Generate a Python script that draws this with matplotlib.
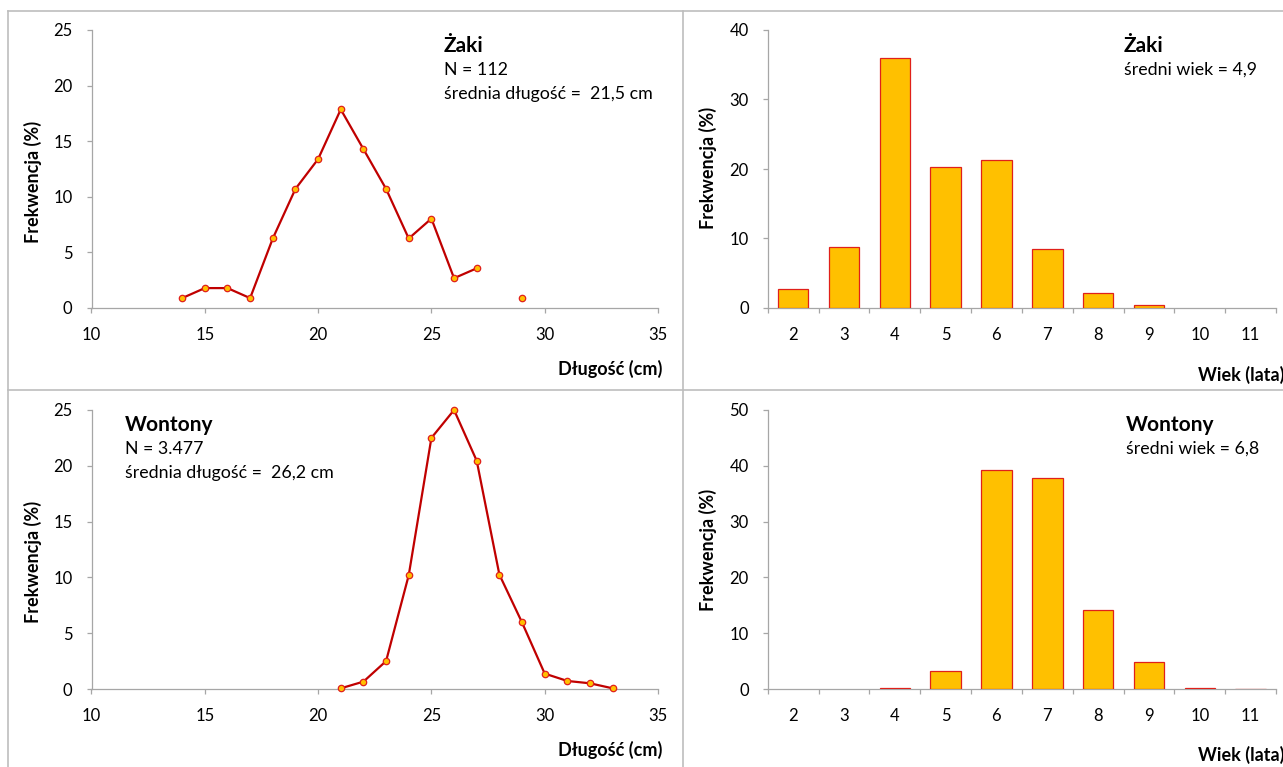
import numpy as np
import matplotlib
matplotlib.use("Agg")
import matplotlib.pyplot as plt
from matplotlib.lines import Line2D

plt.rcParams['font.family'] = ['Lato', 'DejaVu Sans']

# ---------------- data ----------------
zaki_len = [14, 15, 16, 17, 18, 19, 20, 21, 22, 23, 24, 25, 26, 27, 28, 29]
zaki_len_pct = [0.89, 1.79, 1.79, 0.89, 6.25, 10.71, 13.39, 17.86, 14.29, 10.71,
                6.25, 8.04, 2.68, 3.57, np.nan, 0.89]
zaki_age = [2, 3, 4, 5, 6, 7, 8, 9, 10, 11]
zaki_age_pct = [2.7, 8.8, 36.0, 20.3, 21.3, 8.5, 2.2, 0.5, 0.0, 0.0]

wont_len = [21, 22, 23, 24, 25, 26, 27, 28, 29, 30, 31, 32, 33]
wont_len_pct = [0.06, 0.66, 2.5, 10.2, 22.5, 25.0, 20.45, 10.25, 5.96, 1.38, 0.72, 0.51, 0.06]
wont_age = [2, 3, 4, 5, 6, 7, 8, 9, 10, 11]
wont_age_pct = [0.0, 0.0, 0.1, 3.2, 39.3, 37.8, 14.2, 4.85, 0.25, 0.08]

len_ticks = [10, 15, 20, 25, 30, 35]
ylabel = "Frekwencja (%)"
xlabel_len = "Długość (cm)"
xlabel_age = "Wiek (lata)"

W, H = 1283, 767
fig = plt.figure(figsize=(W / 100, H / 100), dpi=100)

def fx(px):
    return px / W

def fy(py):
    return 1 - py / H

def make_ax(l, r, t, b):
    return fig.add_axes([fx(l), fy(b), fx(r) - fx(l), fy(t) - fy(b)])

SPINE = '#a6a6a6'
LINE = '#c00000'
GOLD = '#ffc000'
EDGE = '#e0201a'
TICK_FS = 12
ANN_FS = 12.8
TITLE_FS = 15
LAB_FS = 13

def style(ax):
    for s in ['top', 'right']:
        ax.spines[s].set_visible(False)
    for s in ['left', 'bottom']:
        ax.spines[s].set_color(SPINE)
        ax.spines[s].set_linewidth(0.9)
    ax.tick_params(axis='both', which='both', direction='out', color=SPINE,
                   length=3.6, width=0.9, labelsize=TICK_FS, labelcolor='#000000')
    ax.tick_params(axis='y', pad=10)
    ax.tick_params(axis='x', pad=10)
    ax.set_facecolor('none')

# panel borders
for (x0, y0, x1, y1) in [(7.7, 10.7, W + 5, 10.7), (7.7, 10.7, 7.7, H + 5),
                         (683, 10.7, 683, H + 5), (7.7, 390, W + 5, 390)]:
    fig.add_artist(Line2D([fx(x0), fx(x1)], [fy(y0), fy(y1)], color='#bdbdbd', lw=1.2,
                          transform=fig.transFigure))

def line_panel(l, r, t, b, xs, ys, title, n_txt, mean_txt, tx, ty, ylab_xy, xlab_xy):
    ax = make_ax(l, r, t, b)
    style(ax)
    ax.plot(xs, ys, color=LINE, lw=1.6, marker='o', markersize=4.6,
            markerfacecolor=GOLD, markeredgecolor=EDGE, markeredgewidth=0.9, clip_on=False, zorder=3)
    ax.set_xlim(10, 35)
    ax.set_ylim(0, 25)
    ax.set_xticks(len_ticks)
    ax.set_yticks([0, 5, 10, 15, 20, 25])
    fig.text(fx(tx), fy(ty), title, fontsize=TITLE_FS, fontweight='bold', ha='left', va='center')
    fig.text(fx(tx), fy(ty + 24), n_txt, fontsize=ANN_FS, ha='left', va='center')
    fig.text(fx(tx), fy(ty + 48), mean_txt, fontsize=ANN_FS, ha='left', va='center')
    fig.text(fx(ylab_xy[0]), fy(ylab_xy[1]), ylabel, rotation=90, fontsize=LAB_FS,
             fontweight='bold', ha='center', va='center')
    fig.text(fx(xlab_xy[0]), fy(xlab_xy[1]), xlabel_len, fontsize=LAB_FS,
             fontweight='bold', ha='right', va='center')
    return ax

def bar_panel(l, r, t, b, xs, ys, ymax, title, mean_txt, tx, ty, ylab_xy, xlab_xy):
    ax = make_ax(l, r, t, b)
    style(ax)
    edges = [EDGE if v > 0 else 'none' for v in ys]
    ax.bar(xs, ys, width=0.6, color=GOLD, edgecolor=edges, linewidth=0.9, zorder=3)
    ax.set_xlim(xs[0] - 0.5, xs[-1] + 0.5)
    ax.set_ylim(0, ymax)
    ax.set_xticks(xs)
    ax.set_xticklabels([str(v) for v in xs])
    ax.set_xticks([v + 0.5 for v in [xs[0] - 1] + list(xs)], minor=True)
    ax.tick_params(axis='x', which='major', length=0, pad=14)
    ax.tick_params(axis='x', which='minor', length=3.6)
    ax.set_yticks(np.arange(0, ymax + 1, 10))
    fig.text(fx(tx), fy(ty), title, fontsize=TITLE_FS, fontweight='bold', ha='left', va='center')
    fig.text(fx(tx), fy(ty + 24), mean_txt, fontsize=ANN_FS, ha='left', va='center')
    fig.text(fx(ylab_xy[0]), fy(ylab_xy[1]), ylabel, rotation=90, fontsize=LAB_FS,
             fontweight='bold', ha='center', va='center')
    fig.text(fx(xlab_xy[0]), fy(xlab_xy[1]), xlabel_age, fontsize=LAB_FS,
             fontweight='bold', ha='right', va='center')
    return ax

line_panel(91.5, 658, 30, 308, zaki_len, zaki_len_pct, "Żaki", "N = 112",
           "średnia długość =  21,5 cm", 444, 46, (32.5, 182), (662, 369))
bar_panel(767.7, 1276, 30, 308, zaki_age, zaki_age_pct, 40, "Żaki",
          "średni wiek = 4,9", 1124, 46, (707.7, 168), (1284, 375))
line_panel(91.5, 658, 410, 689, wont_len, wont_len_pct, "Wontony", "N = 3.477",
           "średnia długość =  26,2 cm", 125, 425, (32.5, 562), (662, 750))
bar_panel(767.7, 1276, 410, 689, wont_age, wont_age_pct, 50, "Wontony",
          "średni wiek = 6,8", 1126, 425, (707.7, 550), (1284, 755))

fig.savefig("out.png", dpi=100)
